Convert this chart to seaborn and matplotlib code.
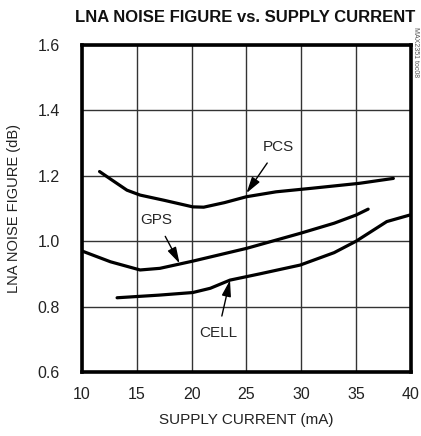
import pandas as pd
import numpy as np
import matplotlib
matplotlib.use("Agg")
import matplotlib.pyplot as plt
import seaborn as sns

# Data
pcs_x = [11.6, 12.6, 14.1, 15.3, 17.5, 20.1, 21.1, 23.0, 25.0, 27.7, 31.0, 35.3, 38.4]
pcs_y = [1.213, 1.190, 1.156, 1.141, 1.125, 1.105, 1.104, 1.118, 1.136, 1.151, 1.162, 1.177, 1.192]

gps_x = [10.0, 12.6, 15.3, 17.1, 20.1, 25.0, 29.9, 33.0, 35.0, 36.1]
gps_y = [0.970, 0.937, 0.912, 0.917, 0.939, 0.978, 1.024, 1.055, 1.080, 1.098]

cell_x = [13.2, 17.0, 20.1, 21.7, 23.5, 26.2, 29.9, 33.0, 35.0, 37.8, 39.9]
cell_y = [0.827, 0.835, 0.843, 0.856, 0.881, 0.900, 0.927, 0.965, 1.000, 1.060, 1.080]

x_ticks = [10, 15, 20, 25, 30, 35, 40]
y_ticks = [0.6, 0.8, 1.0, 1.2, 1.4, 1.6]

df = pd.concat([
    pd.DataFrame({"current": pcs_x, "nf": pcs_y, "band": "PCS"}),
    pd.DataFrame({"current": gps_x, "nf": gps_y, "band": "GPS"}),
    pd.DataFrame({"current": cell_x, "nf": cell_y, "band": "CELL"}),
])

sns.set_style("white")
plt.rcParams["font.family"] = ["Liberation Sans", "DejaVu Sans"]

fig = plt.figure(figsize=(4.21, 4.36), dpi=100)
ax = fig.add_axes([0.1948, 0.1468, 0.7812, 0.75])

for band in ["PCS", "GPS", "CELL"]:
    sub = df[df["band"] == band]
    sns.lineplot(data=sub, x="current", y="nf", ax=ax, color="black",
                 linewidth=2.3, sort=False, estimator=None)

ax.set_xlim(10, 40)
ax.set_ylim(0.6, 1.6)
ax.set_xticks(x_ticks)
ax.set_yticks(y_ticks)
ax.set_xticklabels([str(t) for t in x_ticks])
ax.set_yticklabels(["%.1f" % t for t in y_ticks])
ax.tick_params(axis="both", length=0, labelsize=11.5, colors="#222222")
ax.tick_params(axis="x", pad=11)
ax.tick_params(axis="y", pad=16)
ax.grid(True, color="#333333", linewidth=1.0)
for s in ax.spines.values():
    s.set_visible(True)
    s.set_color("black")
    s.set_linewidth(2.6)

ax.set_xlabel("SUPPLY CURRENT (mA)", fontsize=11, color="#222222", labelpad=8)
ax.set_ylabel("LNA NOISE FIGURE (dB)", fontsize=10.5, color="#222222", labelpad=12)

fig.text(0.582, 0.96, "LNA NOISE FIGURE vs. SUPPLY CURRENT", ha="center", va="center",
         fontsize=12, fontweight="bold", color="#111111")
fig.text(0.988, 0.88, "MAX2351 toc08", rotation=270, ha="center", va="center",
         fontsize=5, color="#555555")

arrow = dict(arrowstyle="-|>,head_length=0.7,head_width=0.2", color="black",
             lw=1.0, mutation_scale=14, shrinkB=0)
ax.annotate("PCS", xy=(25.0, 1.147), xytext=(27.9, 1.288), fontsize=11,
            ha="center", va="center", arrowprops=dict(arrow, shrinkA=5))
ax.annotate("GPS", xy=(18.9, 0.932), xytext=(16.8, 1.065), fontsize=11,
            ha="center", va="center", arrowprops=dict(arrow, shrinkA=5))
ax.annotate("CELL", xy=(23.5, 0.881), xytext=(22.4, 0.719), fontsize=11,
            ha="center", va="center", arrowprops=dict(arrow, shrinkA=5))

fig.savefig("out.png", dpi=100)
